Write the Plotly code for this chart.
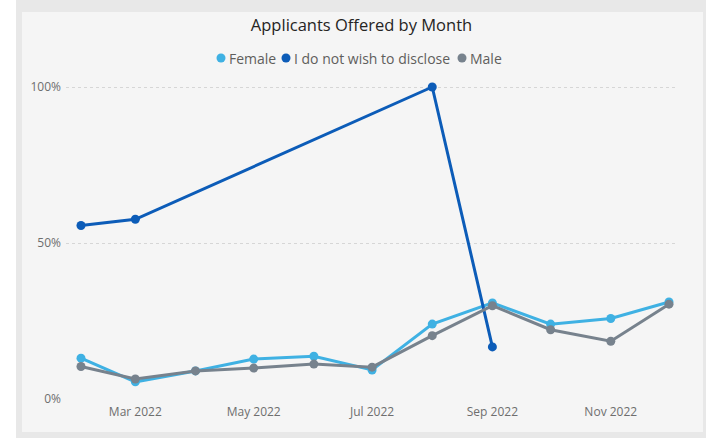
import plotly.graph_objects as go

# Monthly offer rates by gender
months = ["2022-02-01", "2022-03-01", "2022-04-01", "2022-05-01", "2022-06-01",
          "2022-07-01", "2022-08-01", "2022-09-01", "2022-10-01", "2022-11-01",
          "2022-12-01"]
female = [0.131, 0.055, 0.090, 0.128, 0.137, 0.093, 0.240, 0.308, 0.240, 0.258, 0.311]
male = [0.104, 0.064, 0.090, 0.099, 0.112, 0.102, 0.203, 0.299, 0.222, 0.185, 0.304]

disclose_months = ["2022-02-01", "2022-03-01", "2022-08-01", "2022-09-01"]
disclose = [0.556, 0.576, 1.000, 0.167]

series_names = ["Female", "I do not wish to disclose", "Male"]
series_colors = ["#3FB1E3", "#0C5CB8", "#77828D"]

x_tick_vals = ["2022-03-01", "2022-05-01", "2022-07-01", "2022-09-01", "2022-11-01"]
x_tick_text = ["Mar 2022", "May 2022", "Jul 2022", "Sep 2022", "Nov 2022"]
y_tick_vals = [0, 0.5, 1.0]
y_tick_text = ["0%", "50%", "100%"]

W, H = 706, 438
ML, MR, MT, MB = 66, 30, 80, 39
PW, PH = W - ML - MR, H - MT - MB
FONT = "Open Sans"


def px2x(px):
    return (px - ML) / PW


def py2y(py):
    return (H - MB - py) / PH


fig = go.Figure()
for name, color, xs, ys in [
    (series_names[0], series_colors[0], months, female),
    (series_names[1], series_colors[1], disclose_months, disclose),
    (series_names[2], series_colors[2], months, male),
]:
    fig.add_trace(go.Scatter(
        x=xs, y=ys, name=name, mode="lines+markers",
        line=dict(color=color, width=3),
        marker=dict(color=color, size=9),
        cliponaxis=False, showlegend=False,
        hovertemplate="%{x|%b %Y}: %{y:.0%}<extra>" + name + "</extra>",
    ))

shapes = [
    # outer frame and card
    dict(type="rect", xref="paper", yref="paper", layer="below",
         x0=px2x(16), x1=px2x(706), y0=py2y(438), y1=py2y(0),
         fillcolor="#E8E8E8", line=dict(width=0)),
    dict(type="rect", xref="paper", yref="paper", layer="below",
         x0=px2x(22), x1=px2x(703), y0=py2y(432), y1=py2y(12),
         fillcolor="#F5F5F5", line=dict(width=0)),
]

# legend row: dot + label
legend_items = [(221, 227), (286, 292), (462, 468)]
annotations = []
for (cx, tx), name, color in zip(legend_items, series_names, series_colors):
    r = 4.5
    shapes.append(dict(type="circle", xref="paper", yref="paper",
                       x0=px2x(cx - r), x1=px2x(cx + r),
                       y0=py2y(58 + r), y1=py2y(58 - r),
                       fillcolor=color, line=dict(width=0)))
    annotations.append(dict(xref="paper", yref="paper", x=px2x(tx), y=py2y(58),
                            xanchor="left", yanchor="middle", showarrow=False,
                            text=name, font=dict(family=FONT, size=14, color="#605E5C")))

fig.update_layout(
    width=W, height=H,
    margin=dict(l=ML, r=MR, t=MT, b=MB),
    paper_bgcolor="#FFFFFF", plot_bgcolor="rgba(0,0,0,0)",
    title=dict(text="Applicants Offered by Month", x=361.5 / W, xanchor="center",
               y=1 - 25 / H, yanchor="middle", xref="container", yref="container",
               font=dict(family=FONT, size=16.5, color="#252423")),
    shapes=shapes, annotations=annotations,
    xaxis=dict(type="date", range=["2022-01-24 06:30", "2022-12-04 14:40"],
               tickvals=x_tick_vals, ticktext=x_tick_text, showgrid=False,
               zeroline=False, showline=False, ticks="", ticklabelstandoff=4,
               tickfont=dict(family=FONT, size=12, color="#6E6E6E")),
    yaxis=dict(range=[0, PH / 312], tickvals=y_tick_vals, ticktext=y_tick_text,
               showgrid=True, gridcolor="#D6D6D6", griddash="dot", gridwidth=1,
               zeroline=False, showline=False, ticks="", ticklabelstandoff=4,
               tickfont=dict(family=FONT, size=12, color="#6E6E6E")),
    showlegend=False,
)

fig.write_html("out.html")
